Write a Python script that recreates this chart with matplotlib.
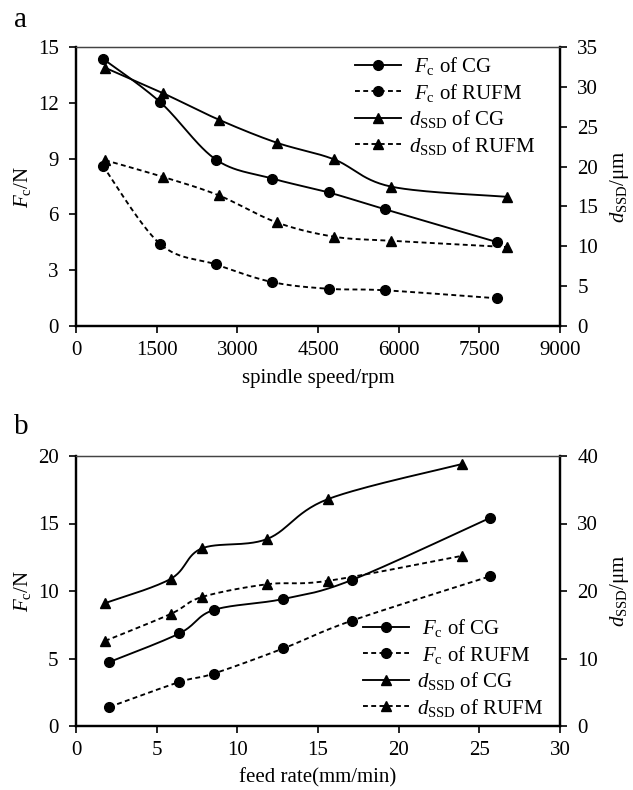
import numpy as np
import matplotlib
matplotlib.use("Agg")
import matplotlib.pyplot as plt
from matplotlib.lines import Line2D

plt.rcParams['font.family'] = ['Liberation Serif', 'DejaVu Serif']
plt.rcParams['mathtext.fontset'] = 'custom'
plt.rcParams['mathtext.rm'] = 'Liberation Serif'
plt.rcParams['mathtext.it'] = 'Liberation Serif:italic'
plt.rcParams['mathtext.bf'] = 'Liberation Serif:bold'

# ---------------- data: panel a (spindle speed) ----------------
speed_fc = [500, 1560, 2600, 3650, 4700, 5740, 7830]
fc_cg_a = [14.37, 12.05, 8.95, 7.93, 7.18, 6.28, 4.51]
fc_rufm_a = [8.61, 4.42, 3.31, 2.36, 2.00, 1.92, 1.49]
speed_d = [540, 1620, 2650, 3730, 4800, 5850, 8020]
d_cg_a = [32.4, 29.2, 25.9, 23.0, 20.9, 17.5, 16.2]
d_rufm_a = [20.8, 18.7, 16.4, 13.0, 11.2, 10.7, 9.9]

# ---------------- data: panel b (feed rate) ----------------
feed_fc = [2.07, 6.41, 8.53, 12.86, 17.09, 25.69]
fc_cg_b = [4.74, 6.86, 8.59, 9.41, 10.81, 15.43]
fc_rufm_b = [1.41, 3.26, 3.88, 5.75, 7.80, 11.10]
feed_d = [1.80, 5.87, 7.79, 11.84, 15.60, 23.90]
d_cg_b = [18.2, 21.8, 26.3, 27.7, 33.6, 38.8]
d_rufm_b = [12.6, 16.6, 19.1, 21.0, 21.5, 25.2]

labels = [r' $F_\mathrm{c}$ of CG', r' $F_\mathrm{c}$ of RUFM',
          r'$d_\mathrm{SSD}$ of CG', r'$d_\mathrm{SSD}$ of RUFM']

W, H = 633, 790
fig = plt.figure(figsize=(W / 100, H / 100), dpi=100)

DASH = (0, (2.6, 1.8))
LW = 1.35
MS = 7.0
FS = 15


def smooth_xy(x, y, xlim, ylim, wpx, hpx, n=30):
    x = np.asarray(x, float)
    y = np.asarray(y, float)
    px = (x - xlim[0]) / (xlim[1] - xlim[0]) * wpx
    py = (y - ylim[0]) / (ylim[1] - ylim[0]) * hpx
    P = np.column_stack([px, py])
    P_ext = np.vstack([P[0], P, P[-1]])
    out = []
    t = np.linspace(0, 1, n)[:, None]
    for i in range(1, len(P_ext) - 2):
        p0, p1, p2, p3 = P_ext[i - 1], P_ext[i], P_ext[i + 1], P_ext[i + 2]
        c1 = p1 + (p2 - p0) / 6.0
        c2 = p2 - (p3 - p1) / 6.0
        seg = ((1 - t) ** 3) * p1 + 3 * ((1 - t) ** 2) * t * c1 + 3 * (1 - t) * t ** 2 * c2 + t ** 3 * p2
        out.append(seg if i == 1 else seg[1:])
    S = np.vstack(out)
    sx = S[:, 0] / wpx * (xlim[1] - xlim[0]) + xlim[0]
    sy = S[:, 1] / hpx * (ylim[1] - ylim[0]) + ylim[0]
    return sx, sy


def draw(ax, x, y, xlim, ylim, wpx, hpx, ls, marker):
    sx, sy = smooth_xy(x, y, xlim, ylim, wpx, hpx)
    ax.plot(sx, sy, color='black', lw=LW, ls=ls, zorder=3)
    ax.plot(x, y, ls='none', marker=marker, ms=MS, color='black', zorder=4)


def style(ax, ax2):
    for a in (ax, ax2):
        for s in ('left', 'right', 'bottom'):
            a.spines[s].set_linewidth(1.6)
        a.spines['top'].set_linewidth(0.9)
        a.spines['top'].set_color('#444444')
    ax.tick_params(axis='x', direction='out', length=5, width=1.2, labelsize=FS, pad=6)
    ax.tick_params(axis='y', direction='out', length=5, width=1.2, labelsize=FS, pad=7.5)
    ax2.tick_params(axis='y', direction='out', length=5, width=1.2, labelsize=FS, pad=7.5)


def make_handles():
    return [
        Line2D([], [], color='black', lw=LW, ls='-', marker='o', ms=MS),
        Line2D([], [], color='black', lw=LW, ls=DASH, marker='o', ms=MS),
        Line2D([], [], color='black', lw=LW, ls='-', marker='^', ms=MS),
        Line2D([], [], color='black', lw=LW, ls=DASH, marker='^', ms=MS),
    ]


def panel(rect_px, xlim, xticks, ylim, yticks, y2lim, y2ticks,
          xfc, fcg, frufm, xd, dcg, drufm, xlabel, leg_xy, letter, letter_xy, y2lab_x):
    l, t, r, b = rect_px
    ax = fig.add_axes([l / W, 1 - b / H, (r - l) / W, (b - t) / H])
    ax2 = ax.twinx()
    wpx, hpx = r - l, b - t
    ax.set_xlim(*xlim)
    ax.set_ylim(*ylim)
    ax2.set_ylim(*y2lim)
    ax.set_xticks(xticks)
    ax.set_yticks(yticks)
    ax2.set_yticks(y2ticks)
    draw(ax, xfc, fcg, xlim, ylim, wpx, hpx, '-', 'o')
    draw(ax, xfc, frufm, xlim, ylim, wpx, hpx, DASH, 'o')
    draw(ax2, xd, dcg, xlim, y2lim, wpx, hpx, '-', '^')
    draw(ax2, xd, drufm, xlim, y2lim, wpx, hpx, DASH, '^')
    style(ax, ax2)
    ax.set_xlabel(xlabel, fontsize=FS)
    ax.xaxis.set_label_coords(0.5, -0.155)
    ax.set_ylabel(r'$F_\mathrm{c}$/N', fontsize=FS)
    ax.yaxis.set_label_coords(-0.088, 0.5)
    ax2.set_ylabel(r'$d_\mathrm{SSD}$/μm', fontsize=FS)
    ax2.yaxis.set_label_coords(y2lab_x, 0.5)
    ax2.legend(make_handles(), labels, loc='upper left',
               bbox_to_anchor=(leg_xy[0] / W, 1 - leg_xy[1] / H),
               bbox_transform=fig.transFigure, frameon=False,
               fontsize=FS, handlelength=2.2, handletextpad=0.4,
               labelspacing=0.22, borderpad=0, borderaxespad=0)
    fig.text(letter_xy[0] / W, 1 - letter_xy[1] / H, letter, fontsize=21,
             ha='left', va='center')
    return ax, ax2


panel((76, 47, 560, 326), (0, 9000), [0, 1500, 3000, 4500, 6000, 7500, 9000],
      (0, 15), [0, 3, 6, 9, 12, 15], (0, 35), [0, 5, 10, 15, 20, 25, 30, 35],
      speed_fc, fc_cg_a, fc_rufm_a, speed_d, d_cg_a, d_rufm_a,
      'spindle speed/rpm', (355, 55), 'a', (14, 20), 1.1)

panel((76, 456, 560, 726), (0, 30), [0, 5, 10, 15, 20, 25, 30],
      (0, 20), [0, 5, 10, 15, 20], (0, 40), [0, 10, 20, 30, 40],
      feed_fc, fc_cg_b, fc_rufm_b, feed_d, d_cg_b, d_rufm_b,
      'feed rate(mm/min)', (363, 617), 'b', (14, 427), 1.1)

fig.savefig('out.png', dpi=100)
